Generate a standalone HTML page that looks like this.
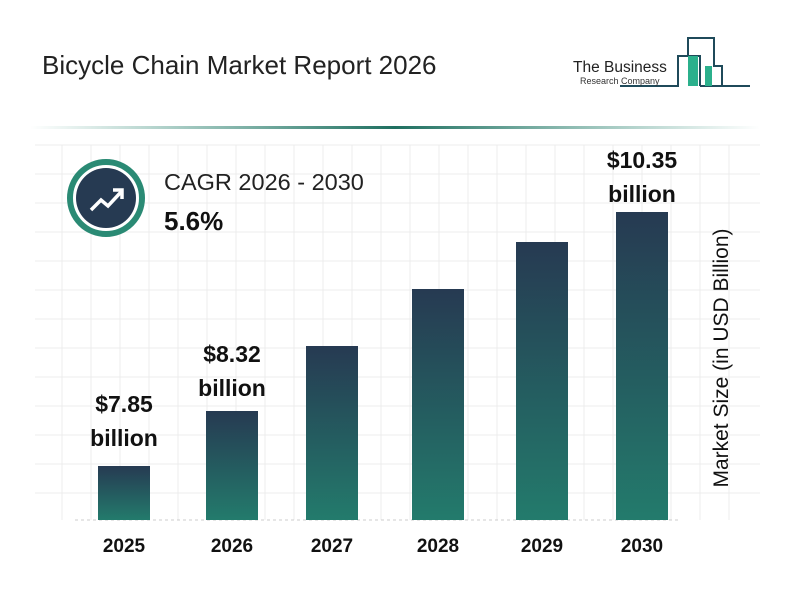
<!DOCTYPE html>
<html><head><style>
body{margin:0;width:800px;height:600px;background:#fff;position:relative;overflow:hidden;font-family:"Liberation Sans",Arial,sans-serif}
.a{position:absolute}
.bar{position:absolute;width:52px;bottom:80px;background:linear-gradient(#263a52,#237b6c)}
.lbl{position:absolute;font-weight:bold;font-size:23px;text-align:center;width:120px;line-height:34px;color:#111}
.yr{position:absolute;top:536px;width:80px;text-align:center;font-weight:bold;font-size:19px;color:#111}
</style></head><body>
<div class="a" style="left:42px;top:50px;font-size:26px;color:#222">Bicycle Chain Market Report 2026</div>
<svg class="a" style="left:0;top:0" width="800" height="600">
<defs><linearGradient id="hl" x1="0" x2="1"><stop offset="0" stop-color="#2a8a74" stop-opacity="0"/><stop offset="0.5" stop-color="#1f6f60"/><stop offset="1" stop-color="#2a8a74" stop-opacity="0"/></linearGradient></defs>
<rect x="30" y="126" width="730" height="3" fill="url(#hl)"/>
<g stroke="#ececec" stroke-width="1">
<line x1="62" y1="145" x2="62" y2="520"/><line x1="91" y1="145" x2="91" y2="520"/><line x1="120" y1="145" x2="120" y2="520"/><line x1="149" y1="145" x2="149" y2="520"/><line x1="178" y1="145" x2="178" y2="520"/><line x1="207" y1="145" x2="207" y2="520"/><line x1="236" y1="145" x2="236" y2="520"/><line x1="265" y1="145" x2="265" y2="520"/><line x1="294" y1="145" x2="294" y2="520"/><line x1="323" y1="145" x2="323" y2="520"/><line x1="352" y1="145" x2="352" y2="520"/><line x1="381" y1="145" x2="381" y2="520"/><line x1="410" y1="145" x2="410" y2="520"/><line x1="439" y1="145" x2="439" y2="520"/><line x1="468" y1="145" x2="468" y2="520"/><line x1="497" y1="145" x2="497" y2="520"/><line x1="526" y1="145" x2="526" y2="520"/><line x1="555" y1="145" x2="555" y2="520"/><line x1="584" y1="145" x2="584" y2="520"/><line x1="613" y1="145" x2="613" y2="520"/><line x1="642" y1="145" x2="642" y2="520"/><line x1="671" y1="145" x2="671" y2="520"/><line x1="700" y1="145" x2="700" y2="520"/><line x1="729" y1="145" x2="729" y2="520"/>
<line x1="35" y1="145" x2="760" y2="145"/><line x1="35" y1="174" x2="760" y2="174"/><line x1="35" y1="203" x2="760" y2="203"/><line x1="35" y1="232" x2="760" y2="232"/><line x1="35" y1="261" x2="760" y2="261"/><line x1="35" y1="290" x2="760" y2="290"/><line x1="35" y1="319" x2="760" y2="319"/><line x1="35" y1="348" x2="760" y2="348"/><line x1="35" y1="377" x2="760" y2="377"/><line x1="35" y1="406" x2="760" y2="406"/><line x1="35" y1="435" x2="760" y2="435"/><line x1="35" y1="464" x2="760" y2="464"/><line x1="35" y1="493" x2="760" y2="493"/>
</g>
<line x1="75" y1="520" x2="680" y2="520" stroke="#ccc" stroke-dasharray="3,3"/>
<circle cx="106" cy="198" r="36" fill="#fff" stroke="#2a8a74" stroke-width="6"/>
<circle cx="106" cy="198" r="30" fill="#263a52"/>
<polyline points="91,210 101,200 108,206 121,192" fill="none" stroke="#fff" stroke-width="3.5"/>
<polyline points="113,190 122,190 122,199" fill="none" stroke="#fff" stroke-width="3.5"/>
<g fill="none" stroke="#1f4a5a" stroke-width="2">
<polyline points="620,86 678,86 678,56 700,56 700,86"/>
<polyline points="688,56 688,38 714,38 714,66 722,66 722,86 750,86"/>
<line x1="700" y1="86" x2="722" y2="86"/>
</g>
<rect x="688" y="56" width="10" height="30" fill="#2bb08c"/>
<rect x="705" y="66" width="7" height="20" fill="#2bb08c"/>
</svg>
<div class="a" style="left:573px;top:59px;font-size:15.5px;color:#222">The Business</div>
<div class="a" style="left:580px;top:76px;font-size:9px;color:#333">Research Company</div>
<div class="a" style="left:164px;top:169px;font-size:23.5px;color:#222">CAGR 2026 - 2030</div>
<div class="a" style="left:164px;top:206px;font-size:26px;font-weight:bold;color:#111">5.6%</div>
<div class="bar" style="left:98px;top:466px"></div>
<div class="bar" style="left:206px;top:411px"></div>
<div class="bar" style="left:306px;top:346px"></div>
<div class="bar" style="left:412px;top:289px"></div>
<div class="bar" style="left:516px;top:242px"></div>
<div class="bar" style="left:616px;top:212px"></div>
<div class="lbl" style="left:64px;top:387px">$7.85<br>billion</div>
<div class="lbl" style="left:172px;top:337px">$8.32<br>billion</div>
<div class="lbl" style="left:582px;top:143px">$10.35<br>billion</div>
<div class="yr" style="left:84px">2025</div>
<div class="yr" style="left:192px">2026</div>
<div class="yr" style="left:292px">2027</div>
<div class="yr" style="left:398px">2028</div>
<div class="yr" style="left:502px">2029</div>
<div class="yr" style="left:602px">2030</div>
<div class="a" style="left:722px;top:358px;transform:translate(-50%,-50%) rotate(-90deg);white-space:nowrap;font-size:21px;color:#111">Market Size (in USD Billion)</div>
</body></html>
